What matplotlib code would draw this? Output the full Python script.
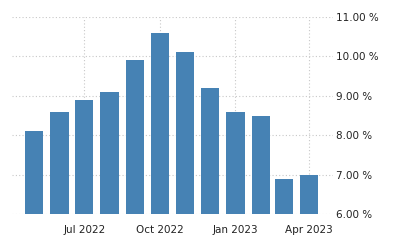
import pandas as pd
import matplotlib
matplotlib.use('Agg')
import matplotlib.pyplot as plt
import matplotlib.dates as mdates

# Monthly inflation rate, May 2022 - Apr 2023
months = pd.date_range('2022-05-01', '2023-04-01', freq='MS')
rates = [8.1, 8.6, 8.9, 9.1, 9.9, 10.6, 10.1, 9.2, 8.6, 8.5, 6.9, 7.0]
tick_dates = pd.to_datetime(['2022-07-01', '2022-10-01', '2023-01-01', '2023-04-01'])
tick_labels = ['Jul 2022', 'Oct 2022', 'Jan 2023', 'Apr 2023']
y_ticks = [6, 7, 8, 9, 10, 11]

fig = plt.figure(figsize=(4, 2.5), dpi=100)
ax = fig.add_axes([0.03, 0.144, 0.8025, 0.788])

ax.bar(months, rates, width=22.5, color='#4682b4', zorder=2)

ax.set_ylim(6, 11)
ax.set_xlim(pd.Timestamp('2022-04-04'), pd.Timestamp('2023-04-30'))
ax.set_yticks(y_ticks)
ax.set_yticklabels([f'{v:.2f} %' for v in y_ticks])
ax.yaxis.tick_right()
ax.set_xticks(tick_dates)
ax.set_xticklabels(tick_labels)

ax.grid(True, color='#c8c8c8', linestyle=(0, (1, 2)), linewidth=0.8, zorder=0)
for s in ax.spines.values():
    s.set_visible(False)
ax.tick_params(axis='both', length=0, labelsize=7.5, colors='#222222')
ax.tick_params(axis='x', pad=8)
ax.tick_params(axis='y', pad=2)

fig.savefig('out.png', dpi=100)
